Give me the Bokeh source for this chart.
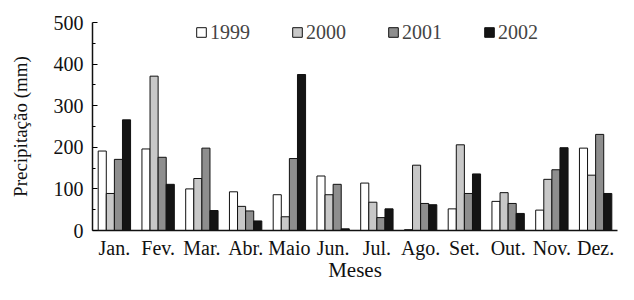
from bokeh.plotting import figure
from bokeh.models import ColumnDataSource, FactorRange, Legend, LegendItem, Range1d, FixedTicker
from bokeh.transform import dodge
from bokeh.embed import file_html
from bokeh.resources import INLINE

months = ["Jan.", "Fev.", "Mar.", "Abr.", "Maio", "Jun.", "Jul.", "Ago.", "Set.", "Out.", "Nov.", "Dez."]
years = ["1999", "2000", "2001", "2002"]
y1999 = [191, 196, 100, 93, 86, 131, 114, 2, 52, 70, 49, 198]
y2000 = [89, 371, 125, 58, 33, 86, 68, 157, 206, 91, 123, 133]
y2001 = [171, 176, 198, 47, 173, 111, 31, 65, 89, 65, 146, 231]
y2002 = [266, 111, 48, 23, 375, 4, 52, 62, 136, 41, 199, 89]
y_ticks = [0, 100, 200, 300, 400, 500]

src = ColumnDataSource(dict(month=months, y1999=y1999, y2000=y2000, y2001=y2001, y2002=y2002))

FONT = "Liberation Serif"
p = figure(x_range=FactorRange(*months, range_padding=0), y_range=Range1d(0, 500),
           width=618, height=284, output_backend="svg", toolbar_location=None,
           min_border_left=92, min_border_right=1, min_border_top=22, min_border_bottom=50)

cols = ["y1999", "y2000", "y2001", "y2002"]
fills = ["#ffffff", "#c8c8c8", "#8e8e8e", "#141414"]
offsets = [-0.2775, -0.0925, 0.0925, 0.2775]
renderers = []
for c, f, o in zip(cols, fills, offsets):
    r = p.vbar(x=dodge("month", o, range=p.x_range), top=c, width=0.185, source=src,
               fill_color=f, line_color="#111111", line_width=1)
    renderers.append(r)

legend = Legend(items=[LegendItem(label=y, renderers=[r]) for y, r in zip(years, renderers)],
                orientation="horizontal", location=(103, 186),
                glyph_width=12, glyph_height=12, label_standoff=3, spacing=37,
                label_width=44, padding=0, margin=0, border_line_alpha=0, background_fill_alpha=0,
                label_text_font=FONT, label_text_font_size="20px", label_height=24)
p.add_layout(legend)

p.xgrid.grid_line_color = None
p.ygrid.grid_line_color = None
p.outline_line_color = None

p.yaxis.ticker = FixedTicker(ticks=y_ticks, minor_ticks=[50, 150, 250, 350, 450])
p.yaxis.major_tick_in = 5
p.yaxis.major_tick_out = 0
p.yaxis.minor_tick_in = 3
p.yaxis.minor_tick_out = 0
p.yaxis.axis_line_width = 1.5
p.yaxis.axis_label = "Precipitação (mm)"
p.xaxis.axis_label = "Meses"
p.xaxis.major_tick_line_color = None
p.xaxis.minor_tick_line_color = None
p.xaxis.major_tick_in = 0
p.xaxis.major_tick_out = 0
p.xaxis.minor_tick_in = 0
p.xaxis.minor_tick_out = 0
p.xaxis.axis_line_width = 1.5
for ax in (p.xaxis, p.yaxis):
    ax.major_label_text_font = FONT
    ax.major_label_text_font_size = "20px"
    ax.major_label_text_color = "#111111"
    ax.axis_label_text_font = FONT
    ax.axis_label_text_font_style = "normal"
    ax.axis_label_text_color = "#111111"
    ax.axis_line_color = "#111111"
p.yaxis.axis_label_text_font_size = "19px"
p.xaxis.axis_label_text_font_size = "21px"
p.xaxis.major_label_standoff = 6
p.xaxis.axis_label_standoff = -4
p.yaxis.major_label_standoff = 9
p.yaxis.axis_label_standoff = 20

open("out.html", "w").write(file_html(p, INLINE))
